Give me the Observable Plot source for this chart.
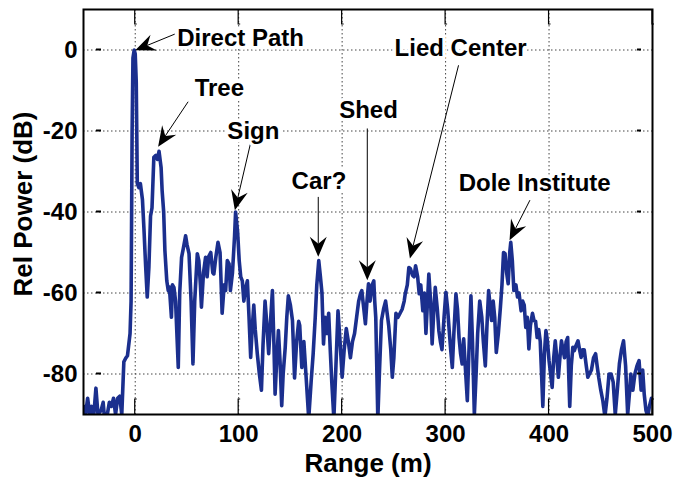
<!DOCTYPE html>
<html><head><meta charset="utf-8">
<script src="https://cdn.jsdelivr.net/npm/d3@7"></script>
<script src="https://cdn.jsdelivr.net/npm/@observablehq/plot@0.6"></script>
<style>body{margin:0;background:#fff}</style>
</head><body><div id="chart"></div>
<script>
const rangeM = [-50,-48,-46,-44,-42,-40,-38,-36,-33,-31,-30,-27,-25,-23,-21,-19,-17,-15,-13,-11,-9,-7.5,-5,-4,-3,-2.2,-1,0,1,2,3.5,5,6,7,8.4,10,11.6,13.2,14.8,16.2,18,20,21.5,23,25,26,27.5,28.7,30.5,31.9,33,35,36,37.4,39,41.6,43,44.8,46.5,48.7,50,52,54,55.8,57.5,60,61.5,63,64,66,68,69.5,71,73,75,76,78,80,82,84,86,87.4,89,90.7,92,94,96,97,99,100.5,102,103.5,105,106.5,108.4,110,111.6,113,114.6,116,118,120,122,123.5,125.5,127,129,131,132.6,134,135.2,136.5,138.4,140,141.6,143,145,146.5,148,150,152,154,156,158,159,161,163,165,167.7,170,172,174,175.5,177.4,179,180.5,182,183.5,185,187,188.5,190,192,194,196,198,200,202,204,206,208,210,212,214,216,217.7,219,221,222.5,224,225.5,227,229,230.6,231.5,232.5,234.5,236,238,240,242,243.5,245,247,248.5,250,252,254,256,258,260,261,263,264.5,266,268,269.5,271,273,274.5,276,278,279.5,281,283.8,285.5,287,288.5,290,292,293.5,295,296.5,298.5,300.3,302,303.5,305,306.5,308,310,311.5,313,314.5,316,317.5,319,321,322.5,324.5,326,327.8,329.5,331,333,335,336.5,338.4,340,341.6,343,344.5,346,347.5,349,351,353,354.5,356,357.5,359,360.5,362,363,364.5,366,368,369.5,371,373,374.5,376,377.5,379,380.5,382,384,385.5,387,388.5,390,391.5,394,395.5,397,398.5,400,401.5,403,404.5,406,407.5,409,410.5,412,413.5,415,416.5,418,419,420,421.5,423,424.5,426,428,429.5,431,432.5,434,436,437.5,439,441,443,445,446.5,448,450,452,454,456,458,460,462,464,466,468,470,472,474,476,478,479,481,483,485,487,489,490.5,492,493.7,495.5,497,499,500];
const relPowerDb = [-88,-90,-86,-90,-88,-90,-83.5,-90,-89,-87,-90,-90,-87,-88,-86,-90,-86,-85.5,-90,-77,-76,-75.5,-70,-62,-20,-2,0,-1,-8,-33,-34,-33,-35,-37,-44,-53,-61,-53.7,-41,-39,-26.5,-26,-27,-25,-29,-34.7,-40,-49.6,-57,-59.4,-58.5,-66,-58,-58.6,-62,-78.4,-60,-51.2,-49,-45.9,-48,-50.3,-62,-77.5,-62,-50.3,-52,-58,-63.5,-55,-51.2,-56,-51,-50,-55,-55.3,-51,-47.5,-50,-65,-58,-59.4,-52,-52.8,-59.4,-55,-46,-40,-45,-52,-56,-57,-62,-59,-57,-66,-75.9,-69,-63,-69,-75,-80,-84,-73,-62,-67,-75,-66,-59.4,-72,-85,-78,-69.3,-77,-87.8,-80,-73.4,-66,-60.7,-63,-66.8,-81,-72,-67,-68,-78.4,-72,-80,-91,-82,-75,-66,-58,-52,-56,-60,-72.6,-66,-70,-65,-74,-82,-91,-78,-64.4,-72,-80.8,-74,-68.8,-72,-76,-72,-70,-66,-62,-60.2,-59.4,-64,-67.6,-62,-57.7,-62,-58,-57,-62,-66,-91,-80,-66.8,-64,-62,-65,-68,-74,-80.8,-76,-65,-66,-65,-64,-62,-60.2,-58,-53.7,-54,-55.6,-56,-53.3,-56,-60.2,-58,-64.4,-60,-70,-55.3,-62,-72.6,-65,-58.6,-64,-69.3,-72,-74,-66,-59.8,-64,-69.3,-74.2,-78.4,-70,-60.2,-64,-71,-75,-77.5,-71.3,-78,-86.6,-75,-60.7,-72,-90,-80,-70,-62,-66,-72,-78,-68,-59.4,-63,-66.8,-62,-66,-74.7,-70,-63.5,-58,-50,-50.3,-55,-57.7,-50,-47.5,-52,-59.4,-58,-61,-60,-64.4,-62,-63,-68.5,-66,-73.8,-68,-65,-66.8,-67,-71,-69,-72,-88,-75,-69.3,-72,-76.7,-80,-83.3,-76,-71.8,-76,-80.8,-76,-71.8,-74,-76,-72,-71,-80,-88,-78,-73.4,-74.2,-73,-71.8,-74,-75.9,-74,-74,-78,-80.8,-80,-79,-76,-75,-78,-80.8,-84,-86.6,-90.5,-86,-80,-80,-82,-90,-84,-77.5,-74,-71.8,-78,-90,-84,-80,-84,-80,-78,-76.7,-84,-79,-85,-89,-90.5,-88,-86,-86];
const xTicks = [0,100,200,300,400,500];
const yTicks = [-80,-60,-40,-20,0];
const xLabel = "Range (m)";
const yLabel = "Rel Power (dB)";
const annText  = ["Direct Path","Tree","Sign","Car?","Shed","Lied Center","Dole Institute"];
const annTextX = [40.6, 81.3, 114.2, 177.6, 225.5, 314.5, 386.1];
const annTextY = [2.8, -9.5, -20, -32.3, -15, 0.3, -32.8];
const annAnchor = ["start","middle","middle","middle","middle","middle","middle"];
const arrowX1 = [38.7, 51.6, 113, 177.4, 224.8, 313, 382];
const arrowY1 = [3.8, -12.9, -22, -36.4, -19.5, -3.9, -37.2];
const arrowX2 = [0.5, 22.6, 96.8, 177.4, 224.8, 266, 362.3];
const arrowY2 = [-0.2, -24, -39.7, -51.2, -57, -51.6, -47.1];

const series = rangeM.map((r, i) => ({range: r, db: relPowerDb[i]}));
const notes = annText.map((t, i) => ({text: t, x: annTextX[i], y: annTextY[i], anchor: annAnchor[i]}));
const arrows = annText.map((t, i) => ({x1: arrowX1[i], y1: arrowY1[i], x2: arrowX2[i], y2: arrowY2[i]}));

const FONT = "'Liberation Sans', Arial, Helvetica, sans-serif";

function insideTicks(index, scales, values, dims) {
  const {x, y} = scales;
  const left = dims.marginLeft, right = dims.width - dims.marginRight;
  const top = dims.marginTop, bottom = dims.height - dims.marginBottom;
  const g = d3.create("svg:g").attr("fill", "none").attr("stroke", "black").attr("stroke-width", 1.2);
  for (const t of xTicks) {
    const px = x(t);
    g.append("path").attr("d", `M${px + 2},${bottom - 15}H${px}V${bottom}`);
    g.append("path").attr("d", `M${px + 2},${top + 15}H${px}V${top}`);
  }
  for (const t of yTicks) {
    const py = y(t);
    g.append("path").attr("d", `M${left + 13},${py}h5`).attr("stroke-width", 2);
    g.append("path").attr("d", `M${right - 15},${py}h4`).attr("stroke-width", 2);
  }
  return g.node();
}

function arrowMark(index, scales) {
  const {x, y} = scales;
  const g = d3.create("svg:g");
  for (const a of arrows) {
    const x1 = x(a.x1), y1 = y(a.y1), x2 = x(a.x2), y2 = y(a.y2);
    const dx = x2 - x1, dy = y2 - y1, L = Math.hypot(dx, dy);
    const ux = dx / L, uy = dy / L, nx = -uy, ny = ux;
    const len = 20, hw = 8.5, notch = 13;
    g.append("line").attr("x1", x1).attr("y1", y1)
      .attr("x2", x2 - ux * notch).attr("y2", y2 - uy * notch)
      .attr("stroke", "black").attr("stroke-width", 1);
    const bx = x2 - ux * len, by = y2 - uy * len;
    const pts = [[x2, y2], [bx + nx * hw, by + ny * hw], [x2 - ux * notch, y2 - uy * notch], [bx - nx * hw, by - ny * hw]];
    g.append("path").attr("d", "M" + pts.map(p => p.join(",")).join("L") + "Z").attr("fill", "black");
  }
  return g.node();
}

const textOpts = {x: "x", y: "y", text: "text", fill: "black", stroke: "white", strokeWidth: 7, fontSize: 24, fontWeight: "bold"};

const chart = Plot.plot({
  width: 675,
  height: 485,
  marginLeft: 83,
  marginRight: 23,
  marginTop: 9,
  marginBottom: 71,
  style: {fontFamily: FONT, fontWeight: "bold", fontSize: "23px", background: "white", color: "black"},
  x: {domain: [-50, 500]},
  y: {domain: [-90, 10]},
  marks: [
    Plot.gridX(xTicks, {stroke: "#444", strokeOpacity: 1, strokeDasharray: "1.5,2.5", strokeWidth: 1}),
    Plot.gridY(yTicks, {stroke: "#444", strokeOpacity: 1, strokeDasharray: "1.5,2.5", strokeWidth: 1}),
    Plot.line(series, {x: "range", y: "db", stroke: "#1b2f8e", strokeWidth: 3.6, clip: true, strokeLinejoin: "round"}),
    Plot.axisX(xTicks, {tickSize: 0, tickPadding: 10, fontSize: 24, fontWeight: "bold", label: null, tickFormat: d => String(d)}),
    Plot.axisY(yTicks, {tickSize: 0, tickPadding: 6, fontSize: 24, fontWeight: "bold", label: null, tickFormat: d => String(d)}),
    Plot.text([xLabel], {text: d => d, frameAnchor: "bottom", dy: 57, fontSize: 26, fontWeight: "bold"}),
    Plot.text([yLabel], {text: d => d, frameAnchor: "left", textAnchor: "middle", dx: -60, dy: -8, rotate: -90, fontSize: 26, fontWeight: "bold"}),
    insideTicks,
    Plot.frame({stroke: "black", strokeWidth: 2}),
    arrowMark,
    Plot.text(notes.filter(d => d.anchor === "start"), {...textOpts, textAnchor: "start"}),
    Plot.text(notes.filter(d => d.anchor === "middle"), {...textOpts, textAnchor: "middle"})
  ]
});
document.getElementById("chart").appendChild(chart);
</script>
</body></html>
